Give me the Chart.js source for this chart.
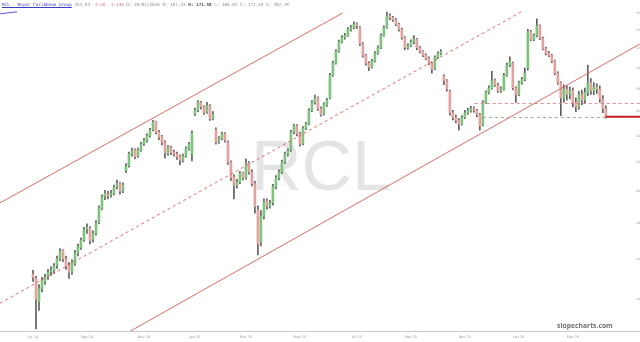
<!DOCTYPE html>
<html><head><meta charset="utf-8">
<script src="https://cdn.jsdelivr.net/npm/chart.js@4.4.1/dist/chart.umd.min.js"></script>
<style>
html,body{margin:0;padding:0;background:#fff;}
#wrap{position:relative;width:640px;height:342px;overflow:hidden;background:#fff;}
#wm{position:absolute;left:1px;top:131px;width:640px;text-align:center;font:70px "Liberation Sans",Arial,sans-serif;color:#e4e4e4;line-height:70px;z-index:0;}
#c{position:absolute;left:0;top:0;z-index:1;}
#hdr{position:absolute;left:2px;top:2px;font:4.3px "DejaVu Sans Mono",monospace;color:#8a8a8a;z-index:2;white-space:pre;line-height:5px;}
#hdr .t{color:#3b3bc8;text-decoration:underline;}
#hdr .n{color:#e07070;}
#hdr b{color:#444;}
#brand{position:absolute;left:557px;top:323px;font:bold 6.8px "Open Sans",sans-serif;color:#6e6e6e;line-height:1;z-index:2;}
</style></head>
<body><div id="wrap">
<div id="wm">RCL</div>
<canvas id="c" width="640" height="342"></canvas>
<div id="hdr"><span class="t">RCL - Royal Caribbean Group</span> 255.93 <span class="n">-2.56 -1.14%</span> D: 10/02/2026 O: 167.53 <b>H: 171.58</b> L: 166.82 C: 171.43 V: 307.7K</div>
<div id="brand">slopecharts.com</div>
</div>
<script>
// Month categories (candles per month) and x tick labels
const monthNames = ['Jul 24','Aug 24','Sep 24','Oct 24','Nov 24','Dec 24','Jan 25','Feb 25','Mar 25','Apr 25','May 25','Jun 25','Jul 25','Aug 25','Sep 25','Oct 25','Nov 25','Dec 25','Jan 26','Feb 26','Mar 26','Apr 26'];
const candlesPerMonth = [9,9,9,10,8,9,8,9,9,9,9,10,9,9,9,9,9,9,9,9,9,3];
const xTickLabels = ['Jul 24','Sep 24','Nov 24','Jan 25','Mar 25','May 25','Jul 25','Sep 25','Nov 25','Jan 26','Mar 26'];
const yTickValues = [140,160,180,200,220,240,260,280,300,320,340,360];

const opens = [152,150,139,145,148.5,151,153.5,154,156.5,160,164.5,160,156.5,153,157.5,163,166,170.5,176.5,177,
170.5,174,180.5,189,196.5,198,197.5,198.5,203,205.5,200,214,217.5,226,229,224.5,229,234,236.5,240,
245,251.5,243,239.5,235,226.5,231,227.5,226,224.5,221,224.5,230,226,258,261.5,268,264,259.5,265,
254,245,235.5,238,241.5,235,220,209.5,204,206,212.5,209,219.5,213,205,188,169,184,193.5,190.5,
192.5,203,209,213,220,226,229,243,248,241.5,234,246,250,261,268,272,262.5,258,266,272,
293,305,317,327.5,332,334,341,343,347,343,325,313,305,301,307,315,321,334,343,356.5,
354.5,352,347,341,332,321,323,327.5,330,321,317,313,310,305,299.5,311,315,292,288,278,
259,255,252.5,249.5,255,259,261,262.5,261,257.5,249,268,277,281,288,284,278.5,280,293,303,
305,281,275,286,289,300,338.5,330,334,345,331,320,315,313,307,295,286,272,280,275,
278.5,268,264,275,270,277,286,278.5,282,280,271,262.5];
const highs = [154,151,147,150.5,152,154.5,156,157.5,161.5,165.5,165,161.5,158,159.5,164.5,168,171.5,177.5,179.5,178,
175.5,181.5,190.5,197.5,200.5,200,200.5,204,207.5,206,205.5,219,227.5,230.5,230,230.5,235,238,241.5,246,
252.5,252,244.5,240.5,236,232.5,232,229,227.5,225.5,226,231.5,235,244,263,269.5,269,265,268,266,
260,246.5,239.5,243,242.5,236,221,211,208,213.5,213,222.5,220.5,214.5,206.5,190.5,187.5,195,195,194,
204.5,210.5,214.5,221.5,227.5,230,244.5,249.5,249,243,247.5,251,262.5,269.5,274.5,273,264,267.5,271.5,295,
307,319,329,334,336.5,343,345.5,349.5,348.5,344,326.5,314,306.5,309,317,323,336,345,361,359,
356,353.5,348,342,333,325,329.5,334,331,322.5,318,314.5,311.5,306,312.5,316.5,319,293.5,289,279,
261,257,254,256.5,261,263,264.5,264,262,258.5,269.5,278.5,283,297,289.5,285.5,282,295,305,311.5,
306,282,287.5,291,300,341,340,336,353,346,332.5,321.5,317,314,308,296.5,287,284,283,282,
281,272,278,279,281,303,290,286,285,283,274,265];
const lows = [148.5,127,135,143.5,147,149.5,151.5,152.5,155,159,158.5,154.5,150,152,156.5,161.5,165,169.5,174,168,
169,173,179.5,188,194.5,195,196,197.5,201.5,198,199,212.5,216.5,224.5,222.5,223.5,228,232.5,235,239,
244,241.5,237,233,223,225,225.5,224.5,222,218,220,223.5,229,221,256.5,260,262,257.5,258.5,252.5,
253,233.5,234,237,235,218.5,207,195,202,205,207.5,208,211.5,203.5,186,162,167,182.5,188.5,189,
191,201.5,207.5,212,219,224.5,228,241.5,240,232,233,245,249,260,266.5,261,256,257,264.5,271,
292,304,316,326,330,333,339,341.5,342,323,311,303,297.5,300,306,314,320,333,342,352,
350,345,339,330,319,319.5,322,325,319,315.5,311.5,308.5,303.5,295,298.5,309.5,313.5,284,278,257,
253,250.5,244.5,248.5,254,257.5,259.5,259.5,255.5,244.5,248,267,275.5,280,282.5,277,277,279,292,301.5,
279.5,268,274,284.5,288,298,328.5,328.5,332.5,329.5,318.5,313.5,311.5,305.5,293.5,284.5,256.5,268,270,271,
264,260,262,266,267,274,275,275,276,268,259,254.5];
const closes = [150.5,140,145,149,150.5,153,154,156,160,164,160,156,153,158,163,166.5,170,176,177.5,170,
174,180,189,196,198.5,197,198.5,202.5,205,200,204,217,226,228.5,224,229,233.5,236.5,240,244.5,
251,243,239,235,227,231,227,226,224,221.5,224.5,230,233.5,242,261,268,264,259,265,254,
257.5,235,238,241.5,236.5,220,209,204,206,212,209,219,213,205,190,168,184,193,190.5,192,
203,209,213,220,226,228.5,243,248,241.5,233.5,246,249.5,261,268,272,262.5,257.5,266,270,293,
305,317,327.5,332,334,341,343,347,345,325,313,305,301,307,315,321,334,343,356.5,354.5,
352,347,341,332,321,323,327.5,330,321,317,313,310,305,299,311,315,317,288,280,259,
255,252.5,249.5,255,259,261,262.5,261,257.5,248,268,277,281,288,284,278.5,280,293,303,307,
281,275,286,289,295,338.5,330,334,345,331,320,315,313,307,295,286,272,280,275,278.5,
268,264,275,270,277,286,278.5,282,280,271,262.5,255.5];

// Drawn trend lines: [candle index, price]
const upperChannel = [[-11,192.4],[103.3,360]];
const middleChannel = [[-11,138.2],[162.7,361]];
const lowerChannel = [[31.5,125.4],[202.4,325]];
const blueLine = [[-11,358.9],[-5.3,361.3]];
const resistanceLevel = [[147.3,267],[202.4,267]];
const supportLevel = [[150,255],[191,255]];
const lastPriceLine = [[191,255.5],[202.4,255.5]];

// ---- build ----
const monthOf = [];
monthNames.forEach((m,k)=>{ for(let j=0;j<candlesPerMonth[k];j++) monthOf.push(m); });
const tickIdx = xTickLabels.map(l => monthOf.indexOf(l));
const idx = closes.map((_,i)=>i);
const upC = '#7ec47e', dnC = '#e5a0a0';
const pts = a => a.map(p=>({x:p[0],y:p[1]}));
const lineDs = (d,color,w,dash) => ({type:'line',data:pts(d),borderColor:color,borderWidth:w,borderDash:dash||[],pointRadius:0,fill:false,tension:0,order:1});

new Chart(document.getElementById('c'), {
  type:'bar',
  data:{datasets:[
    {type:'bar',data:idx.map(i=>({x:i,y:[lows[i],highs[i]]})),backgroundColor:'#5f5f5f',barThickness:1,grouped:false,order:3},
    {type:'bar',data:idx.map(i=>({x:i,y:[opens[i],closes[i]]})),backgroundColor:idx.map(i=>closes[i]>=opens[i]?upC:dnC),barThickness:2,minBarLength:1,grouped:false,order:2},
    lineDs(upperChannel,'rgba(226,90,90,0.9)',1),
    lineDs(middleChannel,'rgba(226,90,90,0.9)',1,[3,3]),
    lineDs(lowerChannel,'rgba(226,90,90,0.9)',1),
    lineDs(blueLine,'#5a5ad0',1),
    lineDs(resistanceLevel,'rgba(232,120,120,0.85)',1,[3,3]),
    lineDs(supportLevel,'rgba(140,165,120,0.9)',1,[3,3]),
    lineDs(lastPriceLine,'#c81e1e',2)
  ]},
  options:{
    responsive:false, animation:false,
    layout:{padding:0},
    plugins:{legend:{display:false},tooltip:{enabled:false}},
    scales:{
      x:{type:'linear',min:-11,max:202.4,offset:false,
        grid:{display:false,drawTicks:false},
        border:{display:true,color:'#c8c8c8'},
        afterBuildTicks:s=>{s.ticks=tickIdx.map(v=>({value:v}));},
        afterFit:s=>{s.height=11;},
        ticks:{autoSkip:false,maxRotation:0,padding:4,color:'#9a9a9a',font:{size:3.5,family:'DejaVu Sans'},
          callback:v=>{const k=tickIdx.indexOf(v);return k>=0?xTickLabels[k]:'';}}
      },
      y:{type:'logarithmic',position:'right',min:126.1,max:370.8,
        grid:{display:false,drawTicks:false},
        border:{display:false},
        afterBuildTicks:s=>{s.ticks=yTickValues.map(v=>({value:v}));},
        afterFit:s=>{s.width=0;},
        ticks:{mirror:true,padding:2,color:'#9a9a9a',font:{size:3.2,family:'DejaVu Sans'},callback:v=>String(v)}
      }
    }
  }
});
</script>
</body></html>
